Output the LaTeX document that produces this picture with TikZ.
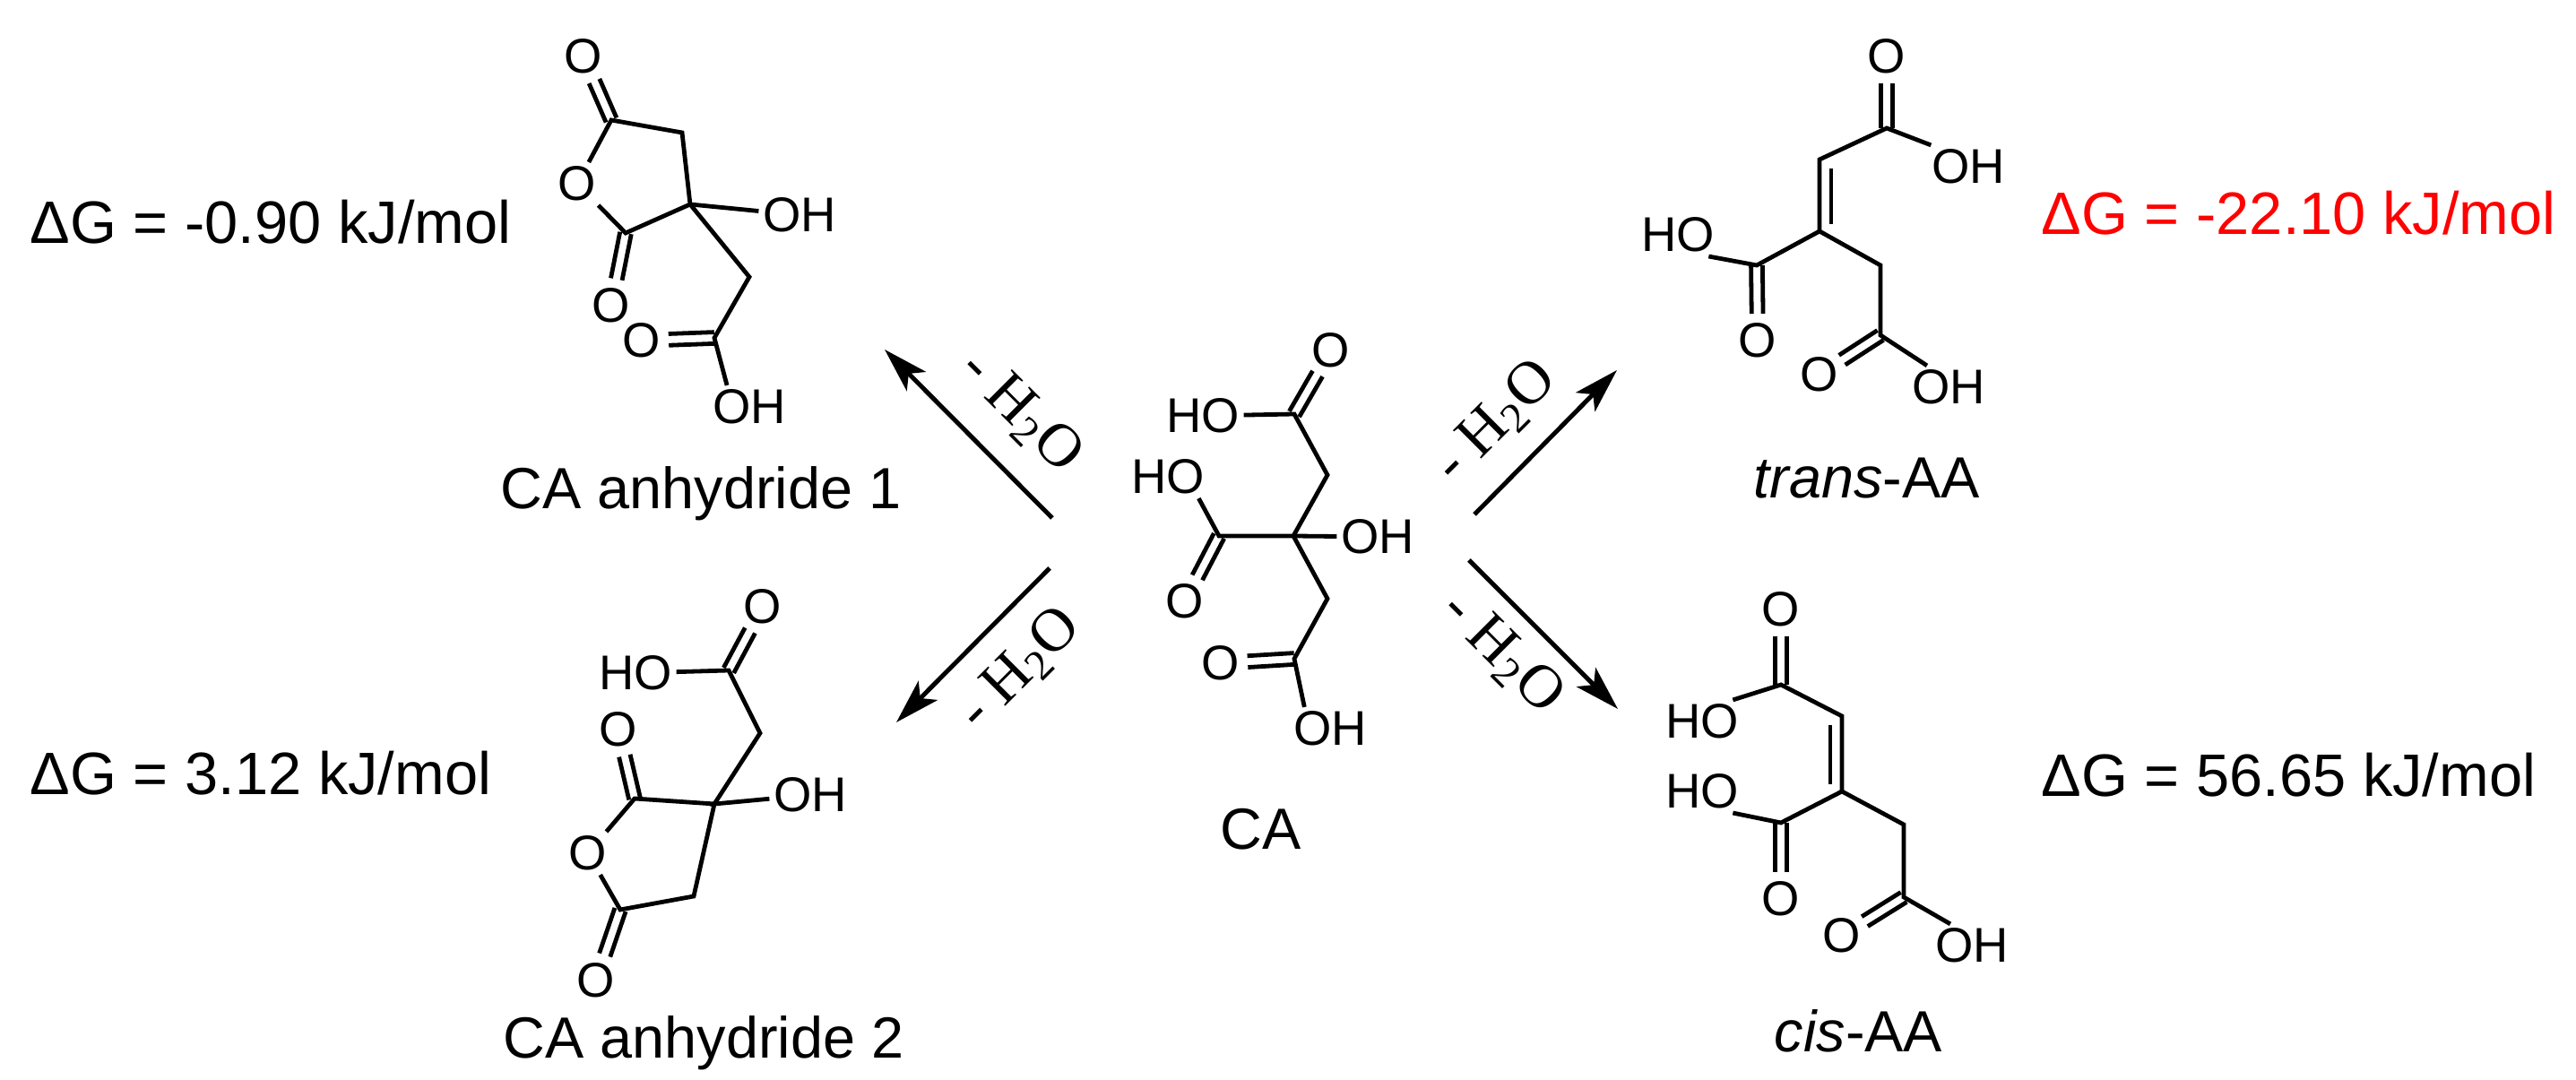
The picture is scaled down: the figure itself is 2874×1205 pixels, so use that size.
\documentclass[tikz,border=0pt]{standalone}
\usepackage{fontspec}
\setmainfont{Liberation Sans}
\newfontfamily\timesfont{Liberation Serif}
\usetikzlibrary{calc,arrows.meta}
\tikzset{
  bond/.style={line width=1.2pt,line join=miter},
  atom/.style={font=\fontsize{13.6}{14}\selectfont,inner sep=1pt},
  caption/.style={font=\fontsize{16.7}{18}\selectfont,inner sep=0pt,anchor=base west},
  molname/.style={font=\fontsize{16.2}{18}\selectfont,inner sep=0pt,anchor=base west},
  loss/.style={font=\timesfont\fontsize{17}{18}\selectfont,inner sep=0pt},
  react/.style={->,line width=1.25pt}
}
\newcommand{\dblbond}[2]{%
  \draw[bond,shorten >=7.5pt] ($(#1)!1.6pt!90:(#2)$) -- ($(#2)!1.6pt!-90:(#1)$);
  \draw[bond,shorten >=7.5pt] ($(#1)!1.6pt!-90:(#2)$) -- ($(#2)!1.6pt!90:(#1)$);}
\begin{document}
\begin{tikzpicture}[x=0.25pt,y=-0.25pt,>={Stealth[length=12.5pt,width=7.5pt,inset=3pt]}]
        \useasboundingbox (0,0) rectangle (2874,1205);

        % CA
        \coordinate (ca-c) at (1443,598);
        \coordinate (ca-up) at (1481,530);
        \coordinate (ca-top) at (1444,462);
        \coordinate (ca-left) at (1360,598);
        \coordinate (ca-low) at (1481,668);
        \coordinate (ca-bot) at (1444,735);
        \node[atom] (ca-oh) at (1537,599) {OH};
        \node[atom] (ca-hotop) at (1342,464) {HO};
        \node[atom] (ca-otop) at (1485,391) {O};
        \node[atom] (ca-holeft) at (1303,532) {HO};
        \node[atom] (ca-oleft) at (1322,671) {O};
        \node[atom] (ca-obot) at (1362,740) {O};
        \node[atom] (ca-ohbot) at (1484,813) {OH};
        \node[molname] (ca-name) at (1361,948) {CA};
        \draw[bond] (ca-hotop) -- (ca-top) -- (ca-up) -- (ca-c) -- (ca-low) -- (ca-bot) -- (ca-ohbot.140);
        \draw[bond] (ca-holeft.-35) -- (ca-left) -- (ca-c) -- (ca-oh);
        \dblbond{ca-top}{ca-otop}
        \dblbond{ca-left}{ca-oleft}
        \dblbond{ca-bot}{ca-obot}

        % Flechas
        \coordinate (tl-a) at (1174,578);
        \coordinate (tl-b) at (987,390);
        \coordinate (bl-a) at (1171,634);
        \coordinate (bl-b) at (1000,806);
        \coordinate (tr-a) at (1645,574);
        \coordinate (tr-b) at (1804,413);
        \coordinate (br-a) at (1639,625);
        \coordinate (br-b) at (1805,791);
        \draw[react] (tl-a) -- (tl-b);
        \draw[react] (bl-a) -- (bl-b);
        \draw[react] (tr-a) -- (tr-b);
        \draw[react] (br-a) -- (br-b);
        \node[loss,rotate=-45] (tl-w) at (1139,460) {- H\textsubscript{2}O};
        \node[loss,rotate=45] (bl-w) at (1138,747) {- H\textsubscript{2}O};
        \node[loss,rotate=45] (tr-w) at (1669,471) {- H\textsubscript{2}O};
        \node[loss,rotate=-45] (br-w) at (1676,729) {- H\textsubscript{2}O};

        % CA anhydride 1
        \coordinate (an-ca) at (682,134);
        \coordinate (an-cb) at (761,148);
        \coordinate (an-q) at (770,228);
        \coordinate (an-cc) at (698,260);
        \coordinate (an-cd) at (836,309);
        \coordinate (an-ce) at (797,377);
        \node[atom] (an-otop) at (651,63) {O};
        \node[atom] (an-oring) at (644,205) {O};
        \node[atom] (an-olow) at (682,341) {O};
        \node[atom] (an-oh) at (892,240) {OH};
        \node[atom] (an-oside) at (716,380) {O};
        \node[atom] (an-ohbot) at (836,454) {OH};
        \node[molname] (an-name) at (558,568) {CA anhydride 1};
        \node[caption] (an-dg) at (33,272) {ΔG = -0.90 kJ/mol};
        \draw[bond] (an-oring) -- (an-ca) -- (an-cb) -- (an-q) -- (an-cc) -- (an-oring);
        \draw[bond] (an-q) -- (an-oh);
        \draw[bond] (an-q) -- (an-cd) -- (an-ce) -- (an-ohbot.136);
        \dblbond{an-ca}{an-otop}
        \dblbond{an-cc}{an-olow}
        \dblbond{an-ce}{an-oside}

        % CA anhydride 2
        \coordinate (bn-ca) at (813,748);
        \coordinate (bn-cb) at (848,818);
        \coordinate (bn-q) at (797,897);
        \coordinate (bn-cc) at (708,891);
        \coordinate (bn-cd) at (774,1000);
        \coordinate (bn-ce) at (692,1015);
        \node[atom] (bn-otop) at (851,677) {O};
        \node[atom] (bn-ho) at (709,751) {HO};
        \node[atom] (bn-oh) at (904,887) {OH};
        \node[atom] (bn-oup) at (690,814) {O};
        \node[atom] (bn-oring) at (656,952) {O};
        \node[atom] (bn-olow) at (665,1094) {O};
        \node[molname] (bn-name) at (561,1181) {CA anhydride 2};
        \node[caption] (bn-dg) at (33,887) {ΔG = 3.12 kJ/mol};
        \draw[bond] (bn-ho) -- (bn-ca) -- (bn-cb) -- (bn-q) -- (bn-oh);
        \draw[bond] (bn-oring) -- (bn-cc) -- (bn-q) -- (bn-cd) -- (bn-ce) -- (bn-oring);
        \dblbond{bn-ca}{bn-otop}
        \dblbond{bn-cc}{bn-oup}
        \dblbond{bn-ce}{bn-olow}

        % trans-AA
        \coordinate (tc-ca) at (2105,143);
        \coordinate (tc-cb) at (2030,178);
        \coordinate (tc-cc) at (2030,258);
        \coordinate (tc-cd) at (1960,296);
        \coordinate (tc-ce) at (2098,296);
        \coordinate (tc-cf) at (2098,374);
        \node[atom] (tc-otop) at (2105,63) {O};
        \node[atom] (tc-oh) at (2196,186) {OH};
        \node[atom] (tc-ho) at (1872,262) {HO};
        \node[atom] (tc-oleft) at (1961,380) {O};
        \node[atom] (tc-olow) at (2030,418) {O};
        \node[atom] (tc-ohlow) at (2174,432) {OH};
        \node[molname] (tc-name) at (1956,556) {\textit{trans}-AA};
        \node[caption,text=red] (tc-dg) at (2277,262) {ΔG = -22.10 kJ/mol};
        \draw[bond] (tc-oh.150) -- (tc-ca) -- (tc-cb) -- (tc-cc) -- (tc-ce) -- (tc-cf) -- (tc-ohlow.135);
        \draw[bond] (tc-ho.-35) -- (tc-cd) -- (tc-cc);
        \draw[bond,shorten <=2.5pt,shorten >=2pt] ($(tc-cb)+(13,0)$) -- ($(tc-cc)+(13,0)$);
        \dblbond{tc-ca}{tc-otop}
        \dblbond{tc-cd}{tc-oleft}
        \dblbond{tc-cf}{tc-olow}

        % cis-AA
        \coordinate (cc-ca) at (1987,764);
        \coordinate (cc-cb) at (2055,799);
        \coordinate (cc-cc) at (2055,883);
        \coordinate (cc-cd) at (1987,918);
        \coordinate (cc-ce) at (2124,920);
        \coordinate (cc-cf) at (2124,1001);
        \node[atom] (cc-otop) at (1987,680) {O};
        \node[atom] (cc-hoa) at (1899,805) {HO};
        \node[atom] (cc-hob) at (1899,883) {HO};
        \node[atom] (cc-oleft) at (1987,1003) {O};
        \node[atom] (cc-olow) at (2055,1044) {O};
        \node[atom] (cc-oh) at (2200,1055) {OH};
        \node[molname] (cc-name) at (1979,1174) {\textit{cis}-AA};
        \node[caption] (cc-dg) at (2277,889) {ΔG = 56.65 kJ/mol};
        \draw[bond] (cc-hoa.35) -- (cc-ca) -- (cc-cb) -- (cc-cc) -- (cc-ce) -- (cc-cf) -- (cc-oh.135);
        \draw[bond] (cc-hob.-35) -- (cc-cd) -- (cc-cc);
        \draw[bond,shorten <=2.5pt,shorten >=2pt] ($(cc-cb)+(-13,0)$) -- ($(cc-cc)+(-13,0)$);
        \dblbond{cc-ca}{cc-otop}
        \dblbond{cc-cd}{cc-oleft}
        \dblbond{cc-cf}{cc-olow}
    \end{tikzpicture}
\end{document}
